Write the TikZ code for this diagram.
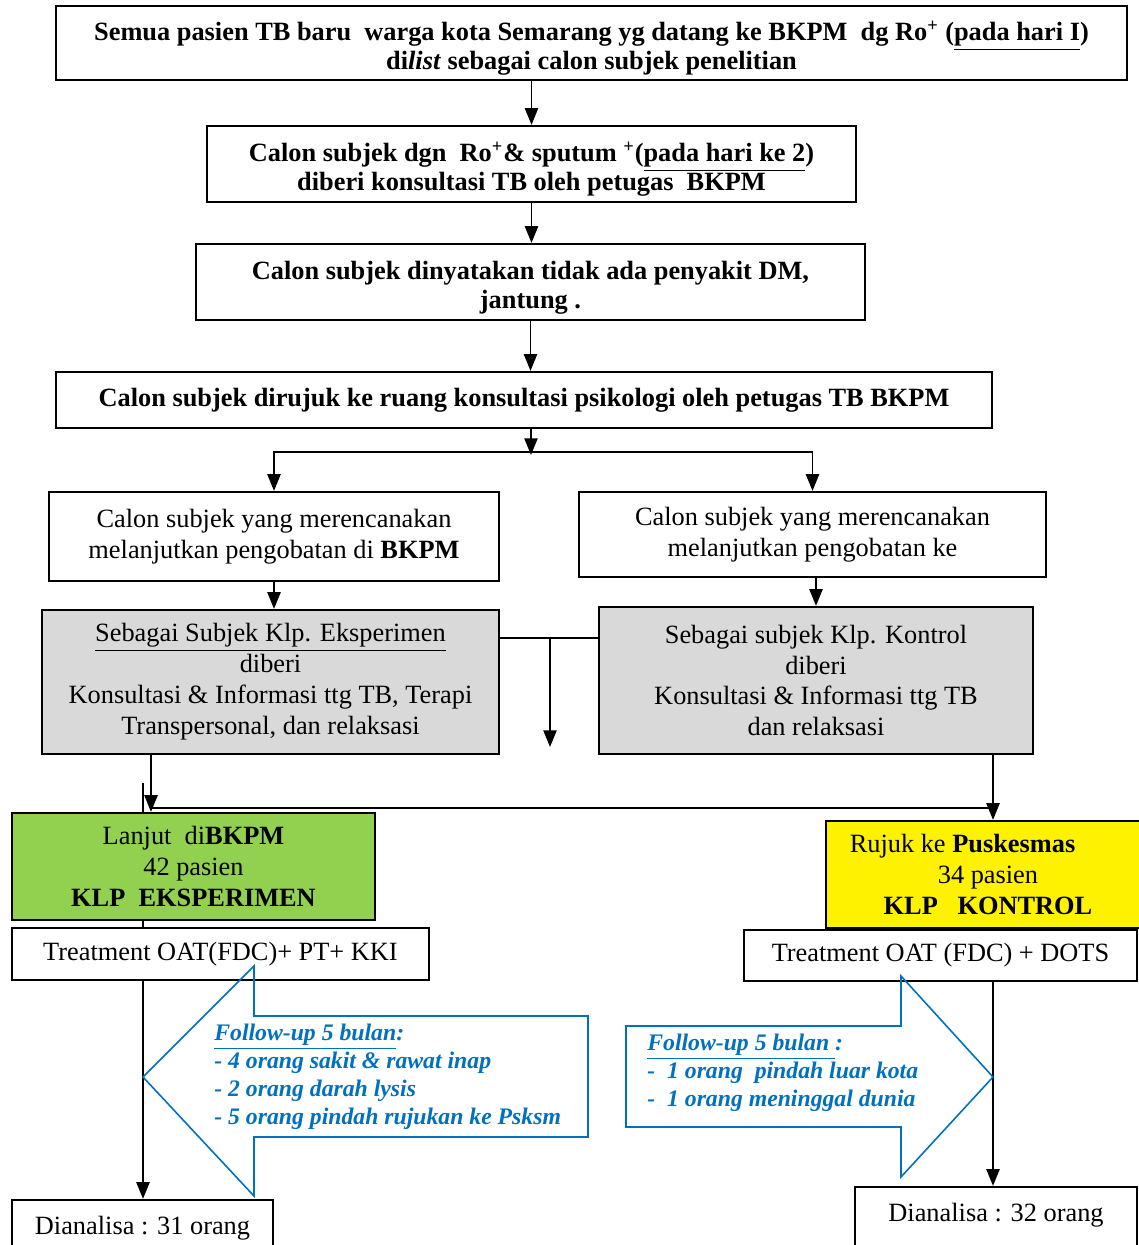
\documentclass[tikz,border=0pt]{standalone}
\usepackage{fontspec}
\setmainfont{Liberation Serif}
\usetikzlibrary{arrows.meta}
\definecolor{grnbox}{HTML}{92D050}
\definecolor{graybox}{HTML}{D9D9D9}
\definecolor{fublue}{HTML}{0070C0}
\newcommand{\topstrut}{\rule{0pt}{17.5pt}}
\begin{document}
\begin{tikzpicture}[x=0.02cm, y=-0.02cm,
    box/.style={draw, line width=1.3pt, inner sep=0pt, align=center,
      font=\fontsize{15}{17.6}\selectfont},
    hdrbox/.style={box, font=\fontsize{15}{16.5}\selectfont\bfseries},
    lbl/.style={inner sep=0pt, font=\fontsize{15}{17.6}\selectfont},
    arr/.style={line width=1pt, -{Triangle[length=9.5pt,width=7.5pt]}},
    link/.style={line width=1pt},
    fuarrow/.style={draw=fublue, line width=0.9pt},
    futext/.style={text=fublue, align=left, inner sep=0pt, anchor=north west,
      font=\fontsize{13.5}{15.9}\selectfont\bfseries\itshape}]
  \clip (0,0) rectangle (1139,1245);
  % screening steps
  \node[hdrbox, minimum width=21.42cm, minimum height=1.48cm] (b1) at (591.5,43)
    {\topstrut Semua pasien TB baru\ \ warga kota Semarang yg datang ke BKPM\ \ dg Ro\textsuperscript{+} (\underline{pada hari I})\\
     di\textit{list} sebagai calon subjek penelitian};
  \node[hdrbox, minimum width=12.98cm, minimum height=1.52cm] (b2) at (531.5,164)
    {\topstrut Calon subjek dgn\ \ Ro\textsuperscript{+}\& sputum \textsuperscript{+}(\underline{pada hari ke 2})\\
     diberi konsultasi TB oleh petugas\ \ BKPM};
  \node[hdrbox, minimum width=13.38cm, minimum height=1.52cm] (b3) at (530.5,282)
    {\topstrut Calon subjek dinyatakan tidak ada penyakit DM,\\ jantung .};
  \node[hdrbox, minimum width=18.72cm, minimum height=1.12cm] (b4) at (524,400)
    {Calon subjek dirujuk ke ruang konsultasi psikologi oleh petugas TB BKPM};
  % choice of treatment place
  \node[box, minimum width=9cm, minimum height=1.78cm] (b5l) at (274,536.5)
    {Calon subjek yang merencanakan\\ melanjutkan pengobatan di \textbf{BKPM}};
  \node[box, minimum width=9.34cm, minimum height=1.7cm] (b5r) at (812.5,534.5)
    {Calon subjek yang merencanakan\\ melanjutkan pengobatan ke};
  \node[box, fill=graybox, minimum width=9.14cm, minimum height=2.88cm] (b6l) at (270.5,682)
    {\underline{Sebagai Subjek Klp. Eksperimen}\\ diberi\\ Konsultasi \& Informasi ttg TB, Terapi\\ Transpersonal, dan relaksasi};
  \node[box, fill=graybox, minimum width=8.68cm, minimum height=2.94cm] (b6r) at (816,680.5)
    {Sebagai subjek Klp. Kontrol\\ diberi\\ Konsultasi \& Informasi ttg TB\\ dan relaksasi};
  % groups
  \node[box, fill=grnbox, minimum width=7.26cm, minimum height=2.14cm] (grn) at (193.5,866.5)
    {Lanjut\ \ di\textbf{BKPM}\\ 42 pasien\\ \textbf{KLP\ \ EKSPERIMEN}};
  \node[box, fill=yellow, minimum width=6.48cm, minimum height=2.14cm] (ylw) at (988,874.5)
    {Rujuk ke \textbf{Puskesmas}\hspace*{29pt}\mbox{}\\ 34 pasien\\ \textbf{KLP\ \ \ KONTROL}};
  \node[box, minimum width=8.34cm, minimum height=1.04cm] (trl) at (220.5,954)
    {Treatment OAT(FDC)+ PT+ KKI};
  \node[box, minimum width=7.86cm, minimum height=1.02cm] (trr) at (940.5,955.5)
    {Treatment OAT (FDC) + DOTS};
  \node[box, minimum width=5.22cm, minimum height=1.12cm] (dal) at (142.5,1228)
    {Dianalisa : 31 orang};
  \node[box, minimum width=5.64cm, minimum height=1.66cm] (dar) at (996,1228.5) {};
  \node[lbl] (dartxt) at (996,1215) {Dianalisa : 32 orang};
  % helper points
  \coordinate (split) at (531,455);
  \coordinate (mid) at (550,638);
  \coordinate (midend) at (550,747);
  \coordinate (lout) at (151,808);
  \coordinate (rout) at (993,808);
  \coordinate (stub) at (143,783);
  % connectors
  \draw[arr] (b1.south -| b2.north) -- (b2.north);
  \draw[arr] (b2.south) -- (b2.south |- b3.north);
  \draw[arr] (b3.south) -- (b3.south |- b4.north);
  \draw[arr] (b4.south -| split) -- (split);
  \draw[arr] ([yshift=1.5pt]split) -| (b5l.north);
  \draw[arr] ([yshift=1.5pt]split) -| (b5r.north);
  \draw[arr] (b5l.south) -- (b5l.south |- b6l.north);
  \draw[arr] (b5r.south -| b6r.north) -- (b6r.north);
  \draw[link] (b6l.east |- mid) -- (b6r.west |- mid);
  \draw[arr] (mid) -- (midend);
  \draw[arr] (b6l.south -| lout) -- (lout |- grn.north);
  \draw[link] (lout) -- (rout);
  \draw[arr] (b6r.south -| rout) -- (rout |- ylw.north);
  \draw[link] (stub) -- (stub |- grn.north);
  \draw[link] (grn.south -| stub) -- (trl.north -| stub);
  \draw[arr] (trl.south -| stub) -- (dal.north -| stub);
  \draw[arr] (trr.south -| rout) -- (dar.north -| rout);
  % follow-up arrows
  \draw[fuarrow] (143,1077) -- (254,966) -- (254,1016) -- (588,1016)
    -- (588,1137) -- (254,1137) -- (254,1196) -- cycle;
  \node[futext] (ful) at (214,1024)
    {\underline{Follow-up 5 bulan}:\\ - 4 orang sakit \& rawat inap\\ - 2 orang darah lysis\\ - 5 orang pindah rujukan ke Psksm};
  \draw[fuarrow] (626,1026) -- (901,1026) -- (901,976) -- (993,1077)
    -- (901,1177) -- (901,1127) -- (626,1127) -- cycle;
  \node[futext] (fur) at (647,1034)
    {\underline{Follow-up 5 bulan }:\\ -\ \ 1 orang\ \ pindah luar kota\\ -\ \ 1 orang meninggal dunia};
\end{tikzpicture}
\end{document}
